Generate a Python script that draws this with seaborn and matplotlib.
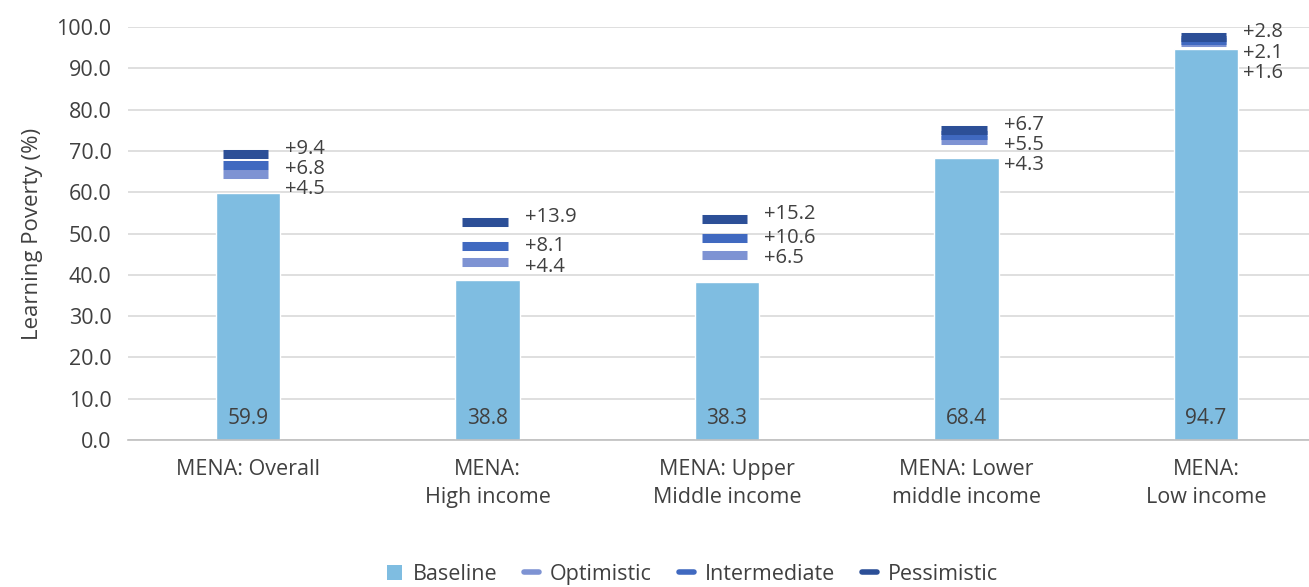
import matplotlib
matplotlib.use("Agg")
import matplotlib.pyplot as plt
import seaborn as sns
import pandas as pd
import numpy as np
from matplotlib.lines import Line2D
from matplotlib.patches import Patch

categories = ["MENA: Overall", "MENA:\nHigh income", "MENA: Upper\nMiddle income",
              "MENA: Lower\nmiddle income", "MENA:\nLow income"]
baseline = [59.9, 38.8, 38.3, 68.4, 94.7]
optimistic = [4.5, 4.4, 6.5, 4.3, 1.6]
intermediate = [6.8, 8.1, 10.6, 5.5, 2.1]
pessimistic = [9.4, 13.9, 15.2, 6.7, 2.8]
yticks = [0, 10, 20, 30, 40, 50, 60, 70, 80, 90, 100]

c_base = "#7FBDE1"
c_opt = "#7E93D3"
c_int = "#4069C0"
c_pes = "#2C4F97"
txt = "#404040"

sns.set_theme(style="white")
plt.rcParams["font.family"] = ["Open Sans", "DejaVu Sans"]

fig = plt.figure(figsize=(13.09, 5.87), dpi=100)
ax = fig.add_axes([0.098, 0.2504, 0.902, 0.7036])

df = pd.DataFrame({"cat": categories, "Baseline": baseline})
sns.barplot(data=df, x="cat", y="Baseline", color=c_base, width=0.27,
            saturation=1, ax=ax, zorder=2)

x = np.arange(len(categories))
dx = -0.01
hw = 0.095
for vals, col in [(optimistic, c_opt), (intermediate, c_int), (pessimistic, c_pes)]:
    tops = np.array(baseline) + np.array(vals)
    ax.hlines(tops, x + dx - hw, x + dx + hw, colors=col, linewidth=6.5, zorder=3)

gap = 4.9
for i in range(len(categories)):
    p = baseline[i] + pessimistic[i]
    yp = p + 1.2
    yi = min(baseline[i] + intermediate[i], yp - gap)
    yo = min(baseline[i] + optimistic[i], yi - gap)
    for y, v in [(yp, pessimistic[i]), (yi, intermediate[i]), (yo, optimistic[i])]:
        ax.text(i + 0.155, y, f"+{v:.1f}", ha="left", va="center", fontsize=14.5,
                color=txt, zorder=4)
    ax.text(i, 5.3, f"{baseline[i]:.1f}", ha="center", va="center", fontsize=15,
            color=txt, zorder=4)

ax.set_xlim(-0.5, 4.43)
ax.set_ylim(0, 100)
ax.set_yticks(yticks)
ax.set_yticklabels([f"{t:.1f}" for t in yticks], fontsize=15.5, color=txt)
ax.yaxis.grid(True, color="#D9D9D9", linewidth=1.2, zorder=0)
ax.set_axisbelow(True)
ax.tick_params(axis="y", length=0, pad=12)
ax.tick_params(axis="x", length=0, pad=14)
ax.set_xticks(x)
ax.set_xticklabels(categories, fontsize=15.5, color=txt, va="top", linespacing=1.4)
ax.set_xlabel("")
ax.set_ylabel("Learning Poverty (%)", fontsize=16, color=txt, labelpad=10)
for s in ["top", "right", "left"]:
    ax.spines[s].set_visible(False)
ax.spines["bottom"].set_color("#BFBFBF")
ax.spines["bottom"].set_linewidth(1.2)

handles = [
    Patch(facecolor=c_base, edgecolor="none", label="Baseline"),
    Line2D([0], [0], color=c_opt, linewidth=4, label="Optimistic"),
    Line2D([0], [0], color=c_int, linewidth=4, label="Intermediate"),
    Line2D([0], [0], color=c_pes, linewidth=4, label="Pessimistic"),
]
fig.legend(handles=handles, loc="center", bbox_to_anchor=(0.529, 0.022), ncol=4,
           frameon=False, fontsize=15.5, handlelength=0.7, handleheight=0.7,
           columnspacing=1.25, handletextpad=0.5, labelcolor=txt)

fig.savefig("out.png", dpi=100)
